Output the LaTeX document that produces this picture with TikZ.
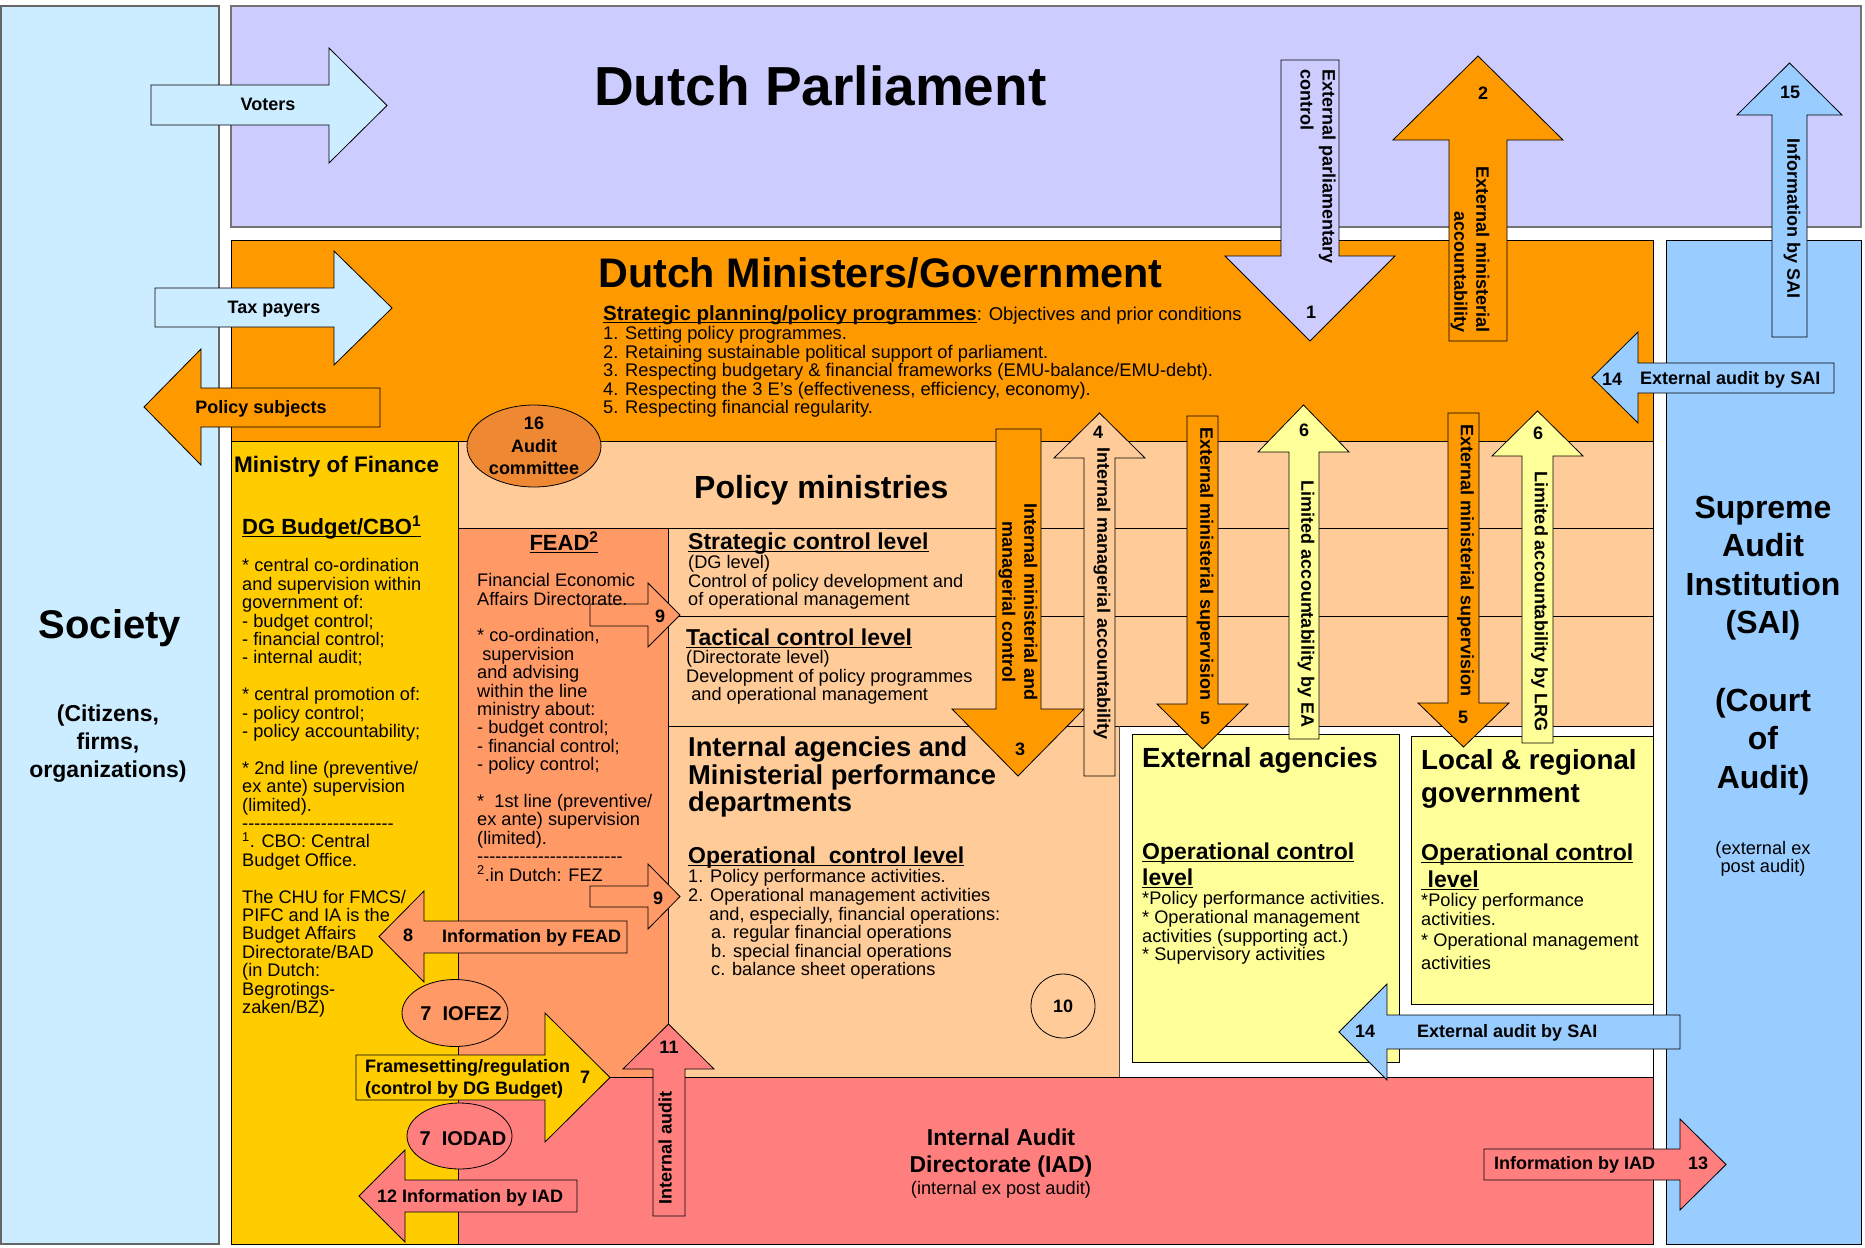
\documentclass[tikz,border=0pt]{standalone}
\usepackage{fontspec}
\setmainfont{Liberation Sans}
\usetikzlibrary{shapes.geometric}
\definecolor{soc}{HTML}{CCECFF}
\definecolor{parl}{HTML}{CCCCFF}
\definecolor{gov}{HTML}{FF9900}
\definecolor{mof}{HTML}{FFCC00}
\definecolor{pol}{HTML}{FFCC99}
\definecolor{fead}{HTML}{FF9966}
\definecolor{iad}{HTML}{FF7F7F}
\definecolor{ea}{HTML}{FFFF99}
\definecolor{sai}{HTML}{99CCFF}
\definecolor{acol}{HTML}{EE8833}
\newcommand\fs[2]{\fontsize{#1}{#2}\selectfont}
\newcommand\ul[1]{\setbox0=\hbox{#1}\rlap{\rule[-3.4pt]{\wd0}{1.7pt}}\box0}
\newcommand\dd{-\kern0pt}
\newcommand\dfive{\dd\dd\dd\dd\dd}
\newcommand\harr[8]{\draw[arr,#1] (#2,#3) -- (#5,#3) -- (#5,#6) -- (#8,{(#6+#7)/2}) -- (#5,#7) -- (#5,#4) -- (#2,#4) -- cycle;}
\newcommand\varr[8]{\draw[arr,#1] (#2,#4) -- (#2,#5) -- (#6,#5) -- ({(#6+#7)/2},#8) -- (#7,#5) -- (#3,#5) -- (#3,#4) -- cycle;}
\begin{document}
\begin{tikzpicture}[x=1pt,y=-1pt,
  arr/.style={draw=black, line width=0.8pt, line join=miter},
  box/.style={draw=black, line width=0.9pt},
  lbl/.style={inner sep=0pt, font=\bfseries\fs{18}{22}},
  num/.style={inner sep=0pt, font=\bfseries\fs{18}{22}, anchor=base},
  vlbl/.style={inner sep=0pt, font=\bfseries\fs{18}{22}, rotate=-90, anchor=mid},
  hd/.style={anchor=base west, inner sep=0pt, font=\bfseries\fs{23}{25}},
  body/.style={inner sep=0pt, align=left, font=\fs{18.2}{18.4}, anchor=north west}]
\useasboundingbox (0,0) rectangle (1865,1247);
\fill[white] (0,0) rectangle (1865,1247);
% ---------- main areas
\draw[fill=soc, draw=black!60, line width=1.6pt] (1,6) rectangle (219,1244);
\draw[fill=parl, draw=black!55, line width=1.4pt] (231,6) rectangle (1861,227);
\draw[box, fill=gov] (231,240) rectangle (1653,441);
\draw[box, fill=mof] (231,441) rectangle (458,1244);
\draw[box, fill=pol] (458,441) rectangle (1653,1077);
\draw[box, fill=fead] (458,528) rectangle (668,1077);
\draw[box] (668,528) -- (1653,528);
\draw[box] (668,616) -- (1653,616);
\fill[white] (1119,726) rectangle (1653,1077);
\draw[box] (668,726) -- (1653,726);
\draw[box, draw=black!70] (1119,726) -- (1119,1077);
\draw[box, fill=iad] (458,1077) rectangle (1653,1244);
\draw[box, fill=sai] (1666,240) rectangle (1861,1244);
\draw[box, fill=ea] (1132,734) rectangle (1399,1062);
\draw[box, fill=ea] (1411,736) rectangle (1653,1004);
% ---------- ellipses / circle
\node[ellipse, draw, fill=acol, line width=0.8pt, minimum width=134pt, minimum height=82pt, inner sep=0pt] (acE) at (534,446) {};
\node[circle, draw, line width=0.8pt, minimum size=64pt, inner sep=0pt, font=\bfseries\fs{18}{20}] (c10) at (1063,1006) {10};
\node[ellipse, draw, fill=fead, line width=0.8pt, minimum width=106pt, minimum height=67pt, inner sep=0pt] (iofez) at (455,1013) {};
\node[ellipse, draw, fill=iad, line width=0.8pt, minimum width=105pt, minimum height=66pt, inner sep=0pt] (iodad) at (459.5,1136) {};
% ---------- horizontal block arrows
\harr{fill=soc}{151}{85}{125}{329}{48}{163}{387}
\harr{fill=soc}{155}{288}{327}{334}{251}{365}{392}
\harr{fill=gov}{380}{388}{427}{201}{349}{465}{144}
\harr{fill=sai}{1834}{363}{393}{1638}{332}{423}{1592}
\harr{fill=fead}{590}{604}{626}{648}{583}{647}{680}
\harr{fill=fead}{590}{886}{907}{648}{864}{929}{680}
\harr{fill=fead}{627}{921}{953}{424}{891}{982}{379}
\harr{fill=mof}{356}{1055}{1100}{545}{1013}{1142}{610}
\harr{fill=iad}{577}{1180}{1212}{405}{1150}{1242}{359}
\harr{fill=iad}{1484}{1149}{1180}{1680}{1119}{1210}{1726}
\harr{fill=sai}{1680}{1015}{1049}{1387}{984}{1080}{1339}
% ---------- vertical block arrows
\varr{fill=parl}{1281}{1339}{60}{256}{1225}{1395}{341}
\varr{fill=gov}{1449}{1507}{341}{140}{1393}{1563}{56}
\varr{fill=sai}{1772}{1807}{337}{115}{1737}{1842}{63}
\varr{fill=gov}{996}{1041}{429}{709}{952}{1084}{776}
\varr{fill=pol}{1084}{1115}{776}{458}{1054}{1145}{413}
\varr{fill=gov}{1187}{1218}{416}{704}{1157}{1248}{749}
\varr{fill=ea}{1289}{1319}{739}{452}{1258}{1349}{405}
\varr{fill=gov}{1448}{1479}{413}{703}{1418}{1509}{747}
\varr{fill=ea}{1522}{1553}{743}{456}{1492}{1583}{411}
\varr{fill=iad}{653}{685}{1216}{1069}{623}{714}{1024}
% ---------- titles
\node[anchor=base west, inner sep=0pt, font=\bfseries\fs{55}{60}] (tparl) at (594,105) {Dutch Parliament};
\node[anchor=base west, inner sep=0pt, font=\bfseries\fs{41.3}{45}] (tgov) at (598,287) {Dutch Ministers/Government};
\node[anchor=base west, inner sep=0pt, font=\fs{18.5}{20}] (tsp) at (603,320) {{\bfseries\fs{20.5}{22}\ul{Strategic planning/policy programmes}}: Objectives and prior conditions};
\node[body, font=\fs{18.3}{18.4}] (tsplist) at (603,326.5) {1. Setting policy programmes.\\2. Retaining sustainable political support of parliament.\\3. Respecting budgetary \& financial frameworks (EMU-balance/EMU-debt).\\4. Respecting the 3 E's (effectiveness, efficiency, economy).\\5. Respecting financial regularity.};
% society
\node[anchor=base, inner sep=0pt, font=\bfseries\fs{40}{44}] (tsoc) at (110,638) {Society};
\node[anchor=north, inner sep=0pt, align=center, font=\bfseries\fs{23}{28}] (tsoc2) at (108,705) {(Citizens,\\firms,\\organizations)};
% ministry of finance
\node[anchor=base west, inner sep=0pt, font=\bfseries\fs{22.5}{24}] (tmof) at (234,472) {Ministry of Finance};
\node[anchor=base west, inner sep=0pt, font=\bfseries\fs{22}{24}] (tdg) at (242,534) {\ul{DG Budget/CBO\textsuperscript{1}}};
\node[body] (tmofbody) at (242,558.4) {* central co-ordination\\and supervision within\\government of:\\- budget control;\\- financial control;\\- internal audit;\\[18.4pt]* central promotion of:\\- policy control;\\- policy accountability;\\[18.4pt]* 2nd line (preventive/\\ex ante) supervision\\(limited).\\\dfive\dfive\dfive\dfive\dfive\\\textsuperscript{1}. CBO: Central\\Budget Office.\\[18.4pt]The CHU for FMCS/\\PIFC and IA is the\\Budget Affairs\\Directorate/BAD\\(in Dutch:\\Begrotings-\\zaken/BZ)};
% audit committee
\node[align=center, inner sep=0pt, font=\bfseries\fs{18}{22.5}] (tac) at (534,446) {16\\Audit\\committee};
% policy ministries
\node[anchor=base west, inner sep=0pt, font=\bfseries\fs{32}{36}] (tpm) at (694,498) {Policy ministries};
\node[anchor=base, inner sep=0pt, font=\bfseries\fs{22}{24}] (tfead) at (564,550) {\ul{FEAD\textsuperscript{2}}};
\node[body] (tfeadbody) at (477,573.4) {Financial Economic\\Affairs Directorate.\\[18.4pt]* co-ordination,\\\ supervision\\and advising\\within the line\\ministry about:\\- budget control;\\- financial control;\\- policy control;\\[18.4pt]*\ \ 1st line (preventive/\\ex ante) supervision\\(limited).\\\dfive\dfive\dfive\dfive\dd\dd\dd\dd\\\textsuperscript{2}.in Dutch: FEZ};
\node[hd] (tstr) at (688,549) {\ul{Strategic control level}};
\node[body] (tstrb) at (688,555.4) {(DG level)\\Control of policy development and\\of operational management};
\node[hd] (ttac) at (686,645) {\ul{Tactical control level}};
\node[body] (ttacb) at (686,650.4) {(Directorate level)\\Development of policy programmes\\\ and operational management};
\node[anchor=north west, inner sep=0pt, align=left, font=\bfseries\fs{27.3}{27.5}] (tint) at (688,737) {Internal agencies and\\Ministerial performance\\departments};
\node[hd] (topc) at (688,863) {\ul{Operational\ \ control level}};
\node[body, font=\fs{18.2}{18.6}] (topcb) at (688,869.4) {1. Policy performance activities.\\2. Operational management activities\\\hspace*{21pt}and, especially, financial operations:\\\hspace*{23pt}a. regular financial operations\\\hspace*{23pt}b. special financial operations\\\hspace*{23pt}c. balance sheet operations};
% external agencies
\node[anchor=base west, inner sep=0pt, font=\bfseries\fs{27.7}{28}] (tea) at (1142,767) {External agencies};
\node[hd] (teao1) at (1142,859) {\ul{Operational control}};
\node[hd] (teao2) at (1142,885) {\ul{level}};
\node[body, font=\fs{18.2}{18.7}] (teab) at (1142,891.4) {*Policy performance activities.\\* Operational management\\activities (supporting act.)\\* Supervisory activities};
% local & regional
\node[anchor=base west, inner sep=0pt, font=\bfseries\fs{27.7}{28}] (tlrg1) at (1421,769) {Local \& regional};
\node[anchor=base west, inner sep=0pt, font=\bfseries\fs{27.7}{28}] (tlrg2) at (1421,802) {government};
\node[hd] (tlrgo1) at (1421,860) {\ul{Operational control}};
\node[hd] (tlrgo2) at (1421,887) {\ul{\ level}};
\node[body] (tlrgb) at (1421,893.4) {*Policy performance\\activities.\\[2.6pt]* Operational management\\[4.6pt]activities};
% SAI
\node[anchor=north, inner sep=0pt, align=center, font=\bfseries\fs{32}{38.6}] (tsai) at (1763,495.6) {Supreme\\Audit\\Institution\\(SAI)\\[38.6pt](Court\\of\\Audit)};
\node[anchor=north, inner sep=0pt, align=center, font=\fs{18.2}{18.4}] (tsai2) at (1763,841) {(external ex\\post audit)};
% IAD
\node[anchor=north, inner sep=0pt, align=center, font=\bfseries\fs{23}{27}] (tiad) at (1001,1128.5) {Internal Audit\\Directorate (IAD)};
\node[anchor=base, inner sep=0pt, font=\fs{18.2}{20}] (tiad2) at (1001,1194) {(internal ex post audit)};
% ellipse texts
\node[anchor=base, inner sep=0pt, font=\bfseries\fs{20}{22}] (tiofez) at (461,1020) {7\ \ IOFEZ};
\node[anchor=base, inner sep=0pt, font=\bfseries\fs{20}{22}] (tiodad) at (463,1145) {7\ \ IODAD};
\node[anchor=north west, inner sep=0pt, align=left, font=\bfseries\fs{18}{22.5}] (tfr) at (365,1059) {Framesetting/regulation\\(control by DG Budget)};
% ---------- arrow labels
\node[lbl, anchor=base] (lvot) at (268,110.7) {Voters};
\node[lbl, anchor=base] (ltax) at (274,313.3) {Tax payers};
\node[lbl, anchor=base] (lpol) at (261,413.3) {Policy subjects};
\node[lbl, anchor=base west] (lsai1) at (1640,384) {External audit by SAI};
\node[lbl, anchor=base west] (lfead) at (442,942) {Information by FEAD};
\node[lbl, anchor=base west] (liad12) at (377,1202) {12 Information by IAD};
\node[lbl, anchor=base west] (liad13) at (1494,1169) {Information by IAD};
\node[lbl, anchor=base west] (lsai2) at (1417,1037) {External audit by SAI};
\node[num] (n1) at (1311,318.5) {1};
\node[num] (n2) at (1483,99.5) {2};
\node[num] (n15) at (1790,98.5) {15};
\node[num] (n14a) at (1612,385.5) {14};
\node[num] (n3) at (1020,755.5) {3};
\node[num] (n4) at (1098,438) {4};
\node[num] (n5a) at (1205,724.5) {5};
\node[num] (n6a) at (1304,436) {6};
\node[num] (n5b) at (1463,723) {5};
\node[num] (n6b) at (1538,439.5) {6};
\node[num] (n9a) at (660,622) {9};
\node[num] (n9b) at (658,904) {9};
\node[num] (n8) at (408,941) {8};
\node[num] (n7) at (585,1083.5) {7};
\node[num] (n11) at (669,1053.5) {11};
\node[num] (n13) at (1698,1169.5) {13};
\node[num] (n14b) at (1365,1037.5) {14};
% rotated labels
\node[lbl, rotate=-90, anchor=west, align=left] (l1) at (1318,69) {External parliamentary\\control};
\node[lbl, rotate=-90, anchor=east, align=right] (l2) at (1470,333) {External ministerial\\accountability};
\node[lbl, rotate=-90, anchor=center, align=center] (l3) at (1018,602) {Internal ministerial and\\managerial control};
\node[vlbl] (l4) at (1100,593.5) {Internal managerial accountability};
\node[vlbl] (l5a) at (1203,564) {External ministerial supervision};
\node[vlbl] (l6a) at (1304,604) {Limited accountability by EA};
\node[vlbl] (l5b) at (1463.5,560.5) {External ministerial supervision};
\node[vlbl] (l6b) at (1537.5,601.5) {Limited accountability by LRG};
\node[vlbl] (l15) at (1790,218.5) {Information by SAI};
\node[lbl, rotate=90, anchor=mid] (l11) at (669,1148) {Internal audit};
\end{tikzpicture}
\end{document}
